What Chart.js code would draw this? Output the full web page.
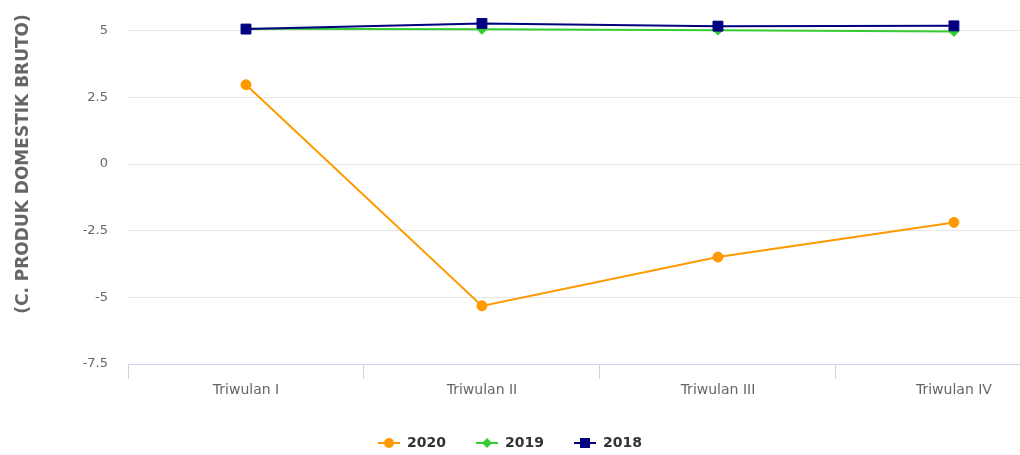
<!DOCTYPE html>
<html>
<head>
<meta charset="utf-8">
<script src="https://cdn.jsdelivr.net/npm/chart.js@4"></script>
<style>
  html, body { margin: 0; padding: 0; background: #fff; }
  #frame { position: relative; width: 1020px; height: 455px; overflow: hidden; }
  #wrap { position: absolute; left: 0; top: -36px; width: 1020px; height: 496px; }
</style>
</head>
<body>
<div id="frame"><div id="wrap"><canvas id="pdbChart"></canvas></div></div>
<script>
const quarters = ['Triwulan I', 'Triwulan II', 'Triwulan III', 'Triwulan IV'];
const pdb2020 = [2.97, -5.32, -3.49, -2.19];
const pdb2019 = [5.07, 5.05, 5.02, 4.97];
const pdb2018 = [5.06, 5.27, 5.17, 5.18];
const yTicks = [-7.5, -5, -2.5, 0, 2.5, 5, 7.5];

const FONT = "'DejaVu Sans', Verdana, sans-serif";

// small line + marker icons for the legend
function legendIcon(color, shape) {
    const c = document.createElement('canvas');
    c.width = 22;
    c.height = 14;
    const g = c.getContext('2d');
    g.strokeStyle = color;
    g.fillStyle = color;
    g.lineWidth = 2;
    g.beginPath();
    g.moveTo(0, 7);
    g.lineTo(22, 7);
    g.stroke();
    g.beginPath();
    if (shape === 'circle') {
        g.arc(11, 7, 5, 0, Math.PI * 2);
    } else if (shape === 'rectRot') {
        g.moveTo(11, 2); g.lineTo(16, 7); g.lineTo(11, 12); g.lineTo(6, 7);
        g.closePath();
    } else {
        g.rect(6, 2, 10, 10);
    }
    g.fill();
    return c;
}

function toPoints(values) {
    return values.map((v, i) => ({ x: i, y: v }));
}

const series = [
    { label: '2020', data: pdb2020, color: '#ff9900', shape: 'circle', radius: 5, order: 2 },
    { label: '2019', data: pdb2019, color: '#33cc33', shape: 'rectRot', radius: 5, order: 1 },
    { label: '2018', data: pdb2018, color: '#000080', shape: 'rect', radius: 7, order: 0 },
];
const icons = series.map(s => legendIcon(s.color, s.shape));

const ctx = document.getElementById('pdbChart').getContext('2d');
const pdbChart = new Chart(ctx, {
    type: 'line',
    data: {
        datasets: series.map(s => ({
            label: s.label,
            data: toPoints(s.data),
            borderColor: s.color,
            backgroundColor: s.color,
            borderWidth: 2,
            pointStyle: s.shape,
            pointRadius: s.radius,
            pointBorderWidth: 1,
            pointHoverRadius: s.radius,
            tension: 0,
            fill: false,
            order: s.order,
        })),
    },
    options: {
        responsive: true,
        maintainAspectRatio: false,
        animation: false,
        layout: { autoPadding: false, padding: 0 },
        scales: {
            x: {
                type: 'linear',
                min: -0.5,
                max: 3.28,
                afterBuildTicks: axis => {
                    axis.ticks = quarters.map((q, i) => ({ value: i }));
                },
                afterFit: axis => {
                    axis.height = 42;
                },
                ticks: {
                    color: '#666666',
                    font: { family: FONT, size: 14 },
                    padding: 3,
                    maxRotation: 0,
                    callback: (value, index) => quarters[index],
                },
                grid: {
                    offset: true,
                    drawOnChartArea: false,
                    drawTicks: true,
                    tickLength: 15,
                    color: '#ccd6eb',
                },
                border: { display: true, color: '#ccd6eb', width: 1 },
            },
            y: {
                min: -7.5,
                max: 7.5,
                afterBuildTicks: axis => {
                    axis.ticks = yTicks.map(v => ({ value: v }));
                },
                afterFit: axis => {
                    axis.width = 128;
                    axis.paddingTop = 0;
                    axis.paddingBottom = 0;
                },
                ticks: {
                    color: '#666666',
                    font: { family: FONT, size: 13 },
                    padding: 20,
                    callback: value => String(value),
                },
                grid: {
                    drawTicks: false,
                    color: c => (c.tick && c.tick.value === -7.5 ? 'rgba(0,0,0,0)' : '#e6e6e6'),
                },
                border: { display: false },
                title: {
                    display: true,
                    text: '(C. PRODUK DOMESTIK BRUTO)',
                    color: '#666666',
                    font: { family: FONT, size: 17, weight: 'bold' },
                    padding: { top: 13, bottom: 0 },
                },
            },
        },
        plugins: {
            legend: {
                position: 'bottom',
                labels: {
                    usePointStyle: true,
                    pointStyleWidth: 22,
                    padding: 30,
                    color: '#333333',
                    font: { family: FONT, size: 14, weight: 'bold' },
                    generateLabels: chart => chart.data.datasets.map((ds, i) => ({
                        text: ds.label,
                        pointStyle: icons[i],
                        fontColor: '#333333',
                        fillStyle: 'rgba(0,0,0,0)',
                        strokeStyle: 'rgba(0,0,0,0)',
                        lineWidth: 0,
                        hidden: false,
                        datasetIndex: i,
                    })),
                },
            },
            tooltip: { enabled: false },
        },
    },
});
</script>
</body>
</html>
